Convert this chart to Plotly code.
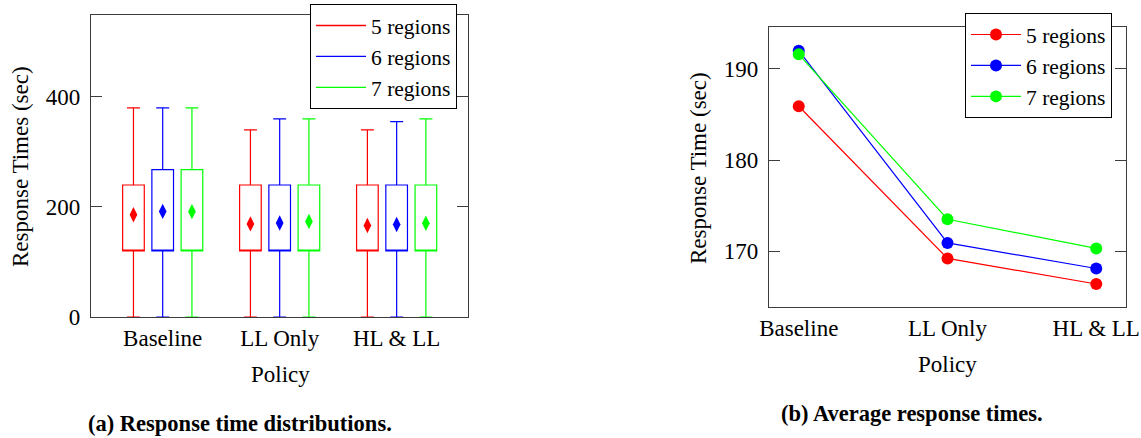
import plotly.graph_objects as go

# ---------------- data ----------------
policies = ["Baseline", "LL Only", "HL & LL"]
series = ["5 regions", "6 regions", "7 regions"]
colors = ["#ff0000", "#0000ff", "#00ff00"]

# box-plot statistics (sec), per series, per policy
lower_whisker = {"5 regions": [0, 0, 0], "6 regions": [0, 0, 0], "7 regions": [0, 0, 0]}
q1_vals = {"5 regions": [120, 120, 120], "6 regions": [120, 120, 120], "7 regions": [120, 120, 120]}
median_vals = {"5 regions": [120, 120, 120], "6 regions": [120, 120, 120], "7 regions": [120, 120, 120]}
q3_vals = {"5 regions": [240, 240, 240], "6 regions": [268, 240, 240], "7 regions": [268, 240, 240]}
upper_whisker = {"5 regions": [380, 340, 340], "6 regions": [380, 360, 355], "7 regions": [380, 360, 360]}

# average response times (sec)
mean_vals = {
    "5 regions": [185.9, 169.2, 166.4],
    "6 regions": [192.0, 170.9, 168.1],
    "7 regions": [191.6, 173.5, 170.3],
}

left_yticks = [0, 200, 400]
right_yticks = [170, 180, 190]

# ---------------- style ----------------
FONT = "Liberation Serif, Times New Roman, serif"
FS = 23
LFS = 21.5
AX = "#3c3c3c"
W, H = 1141, 438

def px_x(p):
    return p / W

def px_y(p):
    return 1 - p / H

offsets = [-0.25, 0.0, 0.25]

fig = go.Figure()

# left: box plots
for s, c, off in zip(series, colors, offsets):
    xs = [i + off for i in range(len(policies))]
    fig.add_trace(go.Box(
        x=xs,
        q1=q1_vals[s], median=median_vals[s], q3=q3_vals[s],
        lowerfence=lower_whisker[s], upperfence=upper_whisker[s],
        width=0.185, whiskerwidth=0.6,
        line=dict(color=c, width=1.2), fillcolor="rgba(255,255,255,0)",
        boxpoints=False, showlegend=False, xaxis="x", yaxis="y",
        hoverinfo="skip",
    ))
    fig.add_trace(go.Scatter(
        x=xs, y=mean_vals[s], mode="markers",
        marker=dict(symbol="diamond-tall", size=11, color=c),
        showlegend=False, xaxis="x", yaxis="y",
    ))
    # legend entry (line only)
    fig.add_trace(go.Scatter(
        x=[None], y=[None], mode="lines", name=s,
        line=dict(color=c, width=1.3), legend="legend",
        xaxis="x", yaxis="y",
    ))

# right: lines with markers
for s, c in zip(series, colors):
    fig.add_trace(go.Scatter(
        x=list(range(len(policies))), y=mean_vals[s], mode="lines+markers", name=s,
        line=dict(color=c, width=1.2), marker=dict(symbol="circle", size=12, color=c),
        legend="legend2", xaxis="x2", yaxis="y2",
    ))

axis_common = dict(
    showline=True, linecolor=AX, linewidth=1.3, mirror=True, showgrid=False,
    zeroline=False, automargin=False,
    tickfont=dict(family=FONT, size=FS, color="black"),
)

legend_common = dict(
    xanchor="left", yanchor="top", bgcolor="white", bordercolor="black", borderwidth=1,
    font=dict(family=FONT, size=LFS), tracegroupgap=0, itemwidth=50,
    entrywidth=111, entrywidthmode="pixels",
)

fig.update_layout(
    width=W, height=H, autosize=False,
    margin=dict(l=0, r=0, t=0, b=0, pad=0),
    paper_bgcolor="white", plot_bgcolor="white",
    font=dict(family=FONT, size=FS, color="black"),
    xaxis=dict(domain=[px_x(91), px_x(468)], range=[-0.613, 2.61],
               tickvals=list(range(len(policies))), ticktext=policies, ticks="",
               anchor="y", **axis_common),
    yaxis=dict(domain=[px_y(317), px_y(15)], range=[0, 549],
               tickvals=left_yticks, ticks="inside", ticklen=11, tickcolor=AX, tickwidth=1.2,
               ticklabelstandoff=5,
               anchor="x", **{**axis_common, "mirror": "allticks"}),
    xaxis2=dict(domain=[px_x(769), px_x(1126)], range=[-0.2, 2.2],
                tickvals=list(range(len(policies))), ticktext=policies, ticks="",
                anchor="y2", **axis_common),
    yaxis2=dict(domain=[px_y(307.3), px_y(27.3)], range=[163.84, 194.56],
                tickvals=right_yticks, ticks="inside", ticklen=11, tickcolor=AX, tickwidth=1.2,
                ticklabelstandoff=5,
                anchor="x2", **{**axis_common, "mirror": "allticks"}),
    legend=dict(x=px_x(310), y=px_y(4), **legend_common),
    legend2=dict(x=px_x(965), y=px_y(13), **legend_common),
    showlegend=True,
)

annots = [
    dict(text="Response Times (sec)", x=px_x(20), y=px_y(167), textangle=-90),
    dict(text="Policy", x=px_x(280), y=px_y(374)),
    dict(text="<b>(a) Response time distributions.</b>", x=px_x(240), y=px_y(423), size=22.5),
    dict(text="Response Time (sec)", x=px_x(698), y=px_y(168), textangle=-90),
    dict(text="Policy", x=px_x(947), y=px_y(364)),
    dict(text="<b>(b) Average response times.</b>", x=px_x(912), y=px_y(413), size=22.5),
]
for a in annots:
    fig.add_annotation(
        text=a["text"], x=a["x"], y=a["y"], xref="paper", yref="paper",
        xanchor="center", yanchor="middle", showarrow=False,
        textangle=a.get("textangle", 0),
        font=dict(family=FONT, size=a.get("size", FS), color="black"),
    )

fig.write_html(
    "out.html",
    config={"displayModeBar": False},
    post_script="document.body.style.margin='0';document.body.style.overflow='hidden';",
)
